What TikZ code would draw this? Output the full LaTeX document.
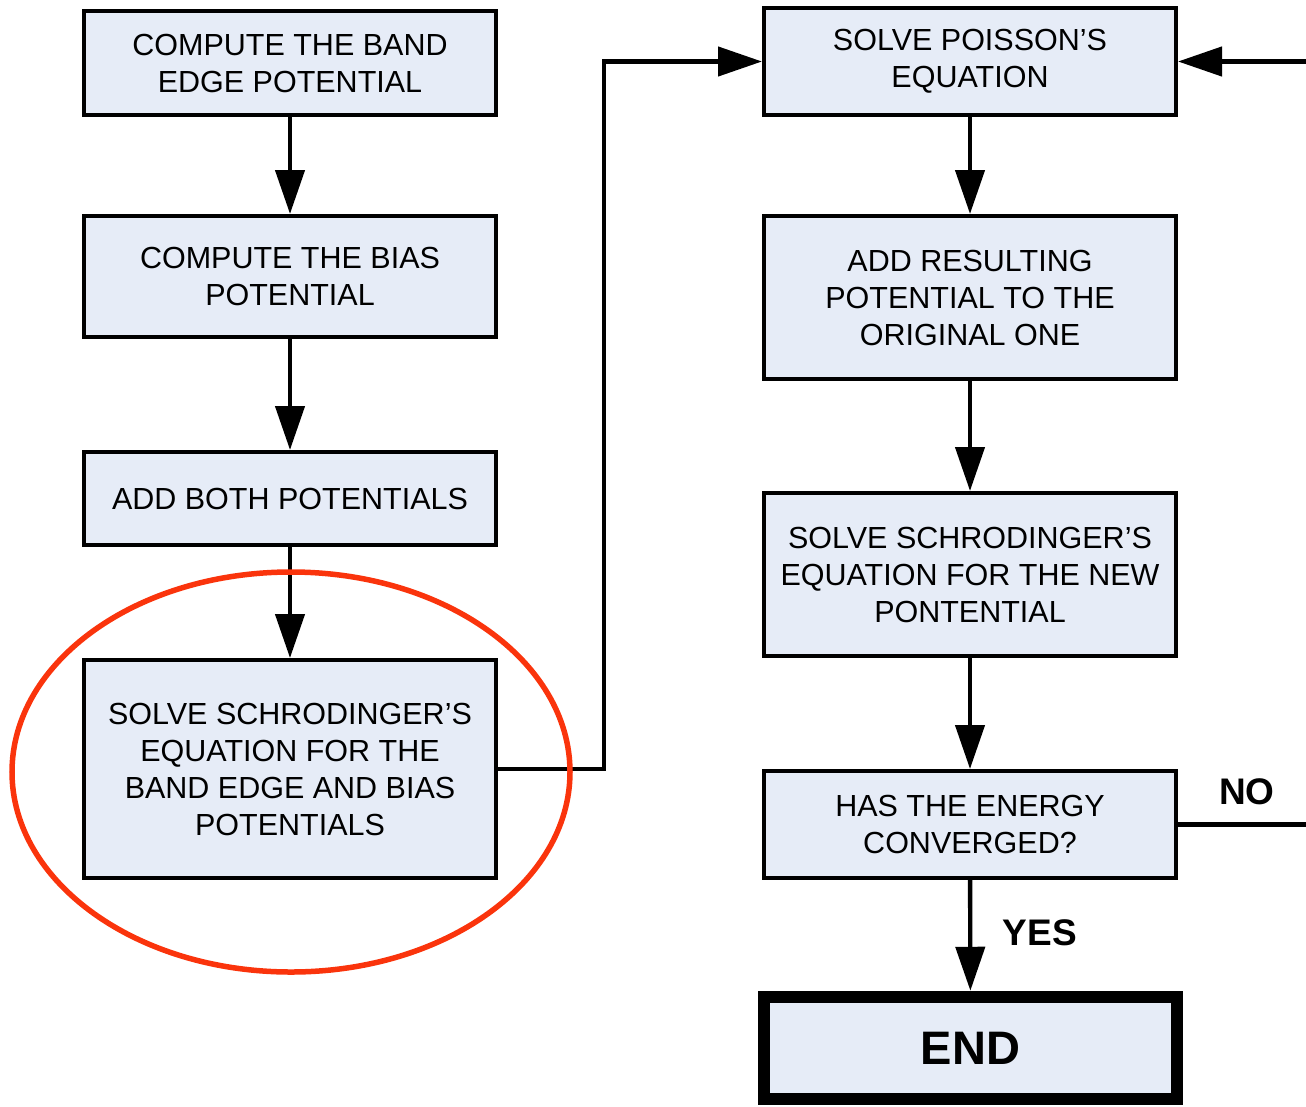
\documentclass[tikz,border=0pt]{standalone}
\usepackage{fontspec}
\setmainfont{Liberation Sans}
\usetikzlibrary{arrows.meta}
\definecolor{boxfill}{RGB}{230,236,247}
\definecolor{ringred}{RGB}{250,52,12}
\tikzset{
  stepbox/.style={draw=black, line width=4, fill=boxfill, align=center,
    inner sep=0, minimum width=412,
    font=\fontsize{30.5}{37}\selectfont},
  conn/.style={line width=4.4, draw=black},
  flow/.style={conn, -{Triangle[length=44pt,width=29pt]}},
  tag/.style={font=\fontsize{37}{40}\selectfont\bfseries}
}
\begin{document}
\begin{tikzpicture}[x=1pt,y=-1pt]
\useasboundingbox (0,0) rectangle (1306,1106);

% left column
\node[stepbox, minimum height=104] (b1) at (290,63) {COMPUTE THE BAND\\EDGE POTENTIAL};
\node[stepbox, minimum height=121] (b2) at (290,276.5) {COMPUTE THE BIAS\\POTENTIAL};
\node[stepbox, minimum height=93]  (b3) at (290,498.5) {ADD BOTH POTENTIALS};
\node[stepbox, minimum height=218] (b4) at (290,769) {SOLVE SCHRODINGER'S\\EQUATION FOR THE\\BAND EDGE AND BIAS\\POTENTIALS};

% right column
\node[stepbox, minimum height=107] (r1) at (970,61.5) {SOLVE POISSON'S\\EQUATION};
\node[stepbox, minimum height=163] (r2) at (970,297.5) {ADD RESULTING\\POTENTIAL TO THE\\ORIGINAL ONE};
\node[stepbox, minimum height=163] (r3) at (970,574.5) {SOLVE SCHRODINGER'S\\EQUATION FOR THE NEW\\PONTENTIAL};
\node[stepbox, minimum height=107] (r4) at (970,824.5) {HAS THE ENERGY\\CONVERGED?};
\node[stepbox, line width=12.5, minimum width=413, minimum height=102,
      font=\fontsize{47}{50}\selectfont\bfseries] (fin) at (970.5,1048) {END};

% connectors
\draw[flow] (b1) -- (b2);
\draw[flow] (b2) -- (b3);
\draw[flow] (b3) -- (b4);
\draw[flow] (b4.east) -- ++(106,0) |- (r1.west);
\draw[flow] (r1) -- (r2);
\draw[flow] (r2) -- (r3);
\draw[flow] (r3) -- (r4);
\draw[flow] (r4) -- (fin);

% loop back for the non-converged case
\coordinate (noout) at (1306,824.5);
\coordinate (loopin) at (1306,61.5);
\draw[conn] (r4.east) -- (noout);
\draw[flow] (loopin) -- (r1.east);

\node[tag] (no) at (1247,792) {NO};
\node[tag] (yes) at (1040,933) {YES};

% highlight ring around the first Schrodinger step
\draw[ringred, line width=5.5] (291,772) ellipse [x radius=279, y radius=200];
\end{tikzpicture}
\end{document}
